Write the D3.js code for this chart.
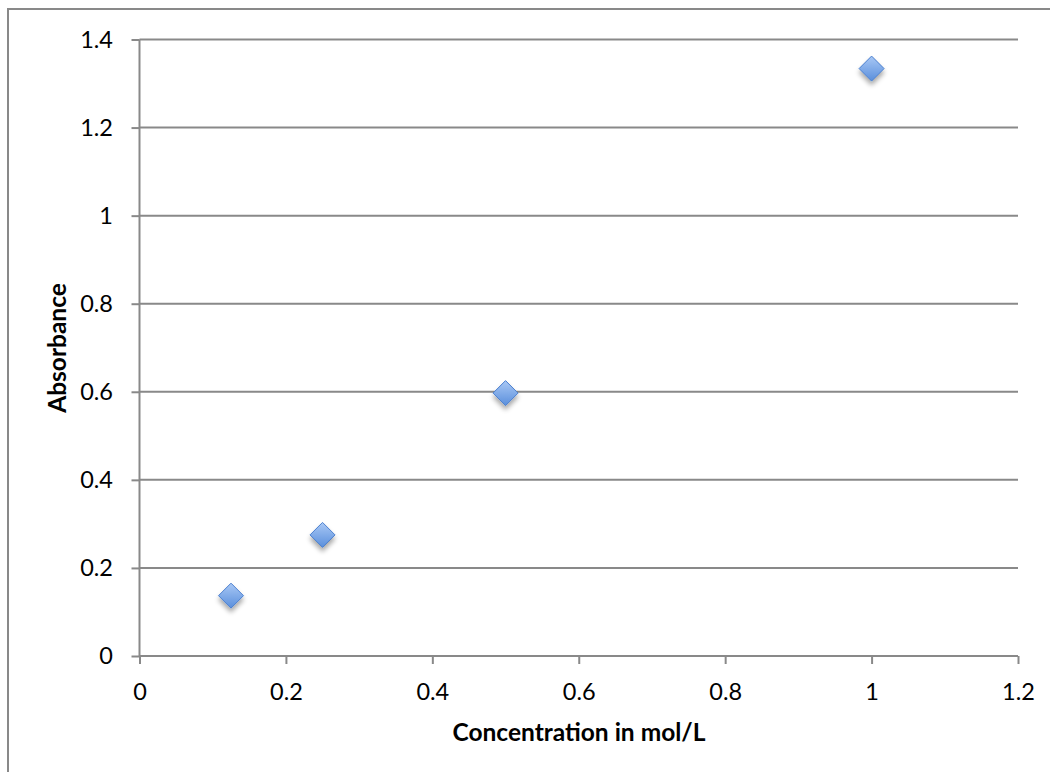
<!DOCTYPE html>
<html><head><meta charset="utf-8">
<script src="https://cdn.jsdelivr.net/npm/d3@7"></script>
<style>body{margin:0;background:#fff}svg{display:block}</style>
</head><body><svg id="c" width="1050" height="772"></svg>
<script>
const concentration = [0.125, 0.25, 0.5, 1];
const absorbance = [0.137, 0.275, 0.597, 1.334];
const xTicks = [0, 0.2, 0.4, 0.6, 0.8, 1, 1.2];
const yTicks = [0, 0.2, 0.4, 0.6, 0.8, 1, 1.2, 1.4];
const xTitle = "Concentration in mol/L";
const yTitle = "Absorbance";

const svg = d3.select("#c");
const font = "Lato, 'Open Sans', sans-serif";
const grey = "#898989";

// outer border
svg.append("path").attr("d","M8,772 V9 H1050").attr("fill","none").attr("stroke",grey).attr("stroke-width",2);

const x = d3.scaleLinear().domain([0,1.2]).range([139.5,1018]);
const y = d3.scaleLinear().domain([0,1.4]).range([656,39.5]);

const defs = svg.append("defs");
const g1 = defs.append("linearGradient").attr("id","dg").attr("x1","0").attr("y1","0").attr("x2","0").attr("y2","1");
g1.append("stop").attr("offset","0%").attr("stop-color","#a9c8f5");
g1.append("stop").attr("offset","100%").attr("stop-color","#5a8fdc");
const f = defs.append("filter").attr("id","sh").attr("x","-50%").attr("y","-50%").attr("width","200%").attr("height","200%");
f.append("feGaussianBlur").attr("in","SourceAlpha").attr("stdDeviation",2.5).attr("result","b");
f.append("feOffset").attr("in","b").attr("dy",4).attr("result","o");
f.append("feComponentTransfer").attr("in","o").attr("result","o2").append("feFuncA").attr("type","linear").attr("slope",0.35);
const m = f.append("feMerge"); m.append("feMergeNode").attr("in","o2"); m.append("feMergeNode").attr("in","SourceGraphic");

// gridlines
svg.append("g").selectAll("line").data(yTicks.filter(d=>d>0)).join("line")
  .attr("x1",x(0)).attr("x2",x(1.2)).attr("y1",d=>y(d)).attr("y2",d=>y(d))
  .attr("stroke",grey).attr("stroke-width",2);

// axes
const yAxis = svg.append("g").attr("transform",`translate(${x(0)},0)`)
  .call(d3.axisLeft(y).tickValues(yTicks).tickFormat(d3.format("~g")).tickSize(8).tickPadding(18.5));
const xAxis = svg.append("g").attr("transform",`translate(0,${y(0)})`)
  .call(d3.axisBottom(x).tickValues(xTicks).tickFormat(d3.format("~g")).tickSize(8).tickPadding(19));
[yAxis,xAxis].forEach(a=>{
  a.select(".domain").attr("stroke",grey).attr("stroke-width",2);
  a.selectAll(".tick line").attr("stroke",grey).attr("stroke-width",2);
  a.selectAll("text").attr("font-family",font).attr("font-size",23.5).attr("fill","#000");
});
xAxis.select(".domain").attr("d",`M${x(0)},0H${x(1.2)}`);
yAxis.select(".domain").attr("d",`M0,${y(0)}V${y(1.4)}`);

// points
const data = concentration.map((c,i)=>({c, a:absorbance[i]}));
svg.append("g").selectAll("path").data(data).join("path")
  .attr("transform",d=>`translate(${x(d.c)},${y(d.a)})`)
  .attr("d","M0,-12.5L12.5,0L0,12.5L-12.5,0Z")
  .attr("fill","url(#dg)").attr("stroke","#4a7fcf").attr("stroke-width",1)
  .attr("filter","url(#sh)");

// titles
svg.append("text").attr("x",579).attr("y",741).attr("text-anchor","middle")
  .attr("font-family",font).attr("font-weight","bold").attr("font-size",24.5).text(xTitle);
svg.append("text").attr("transform","translate(66,348) rotate(-90)").attr("text-anchor","middle")
  .attr("font-family",font).attr("font-weight","bold").attr("font-size",24.5).text(yTitle);
</script></body></html>
